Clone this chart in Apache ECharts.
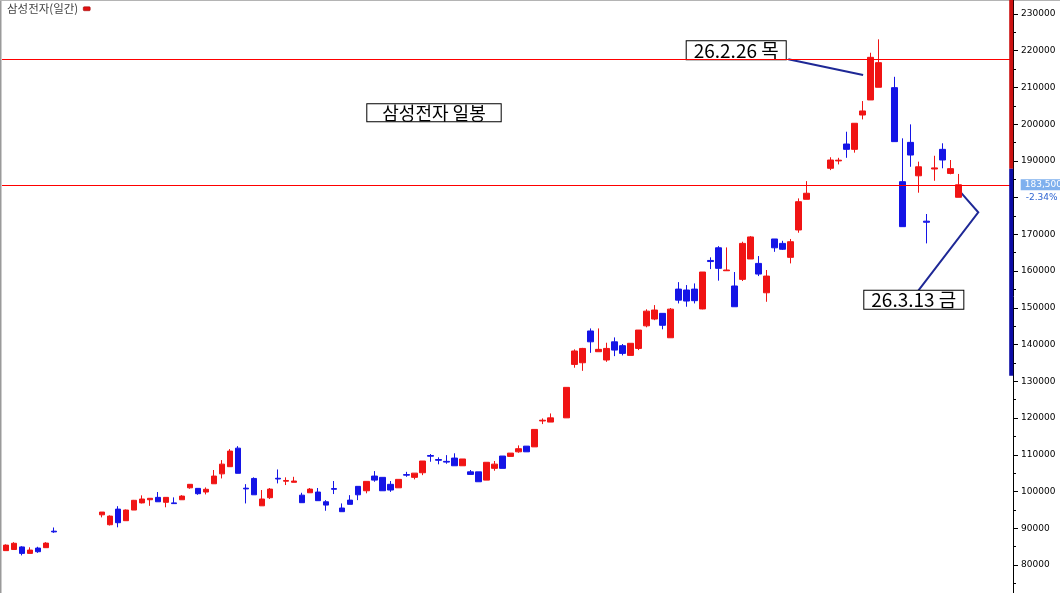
<!DOCTYPE html>
<html><head><meta charset="utf-8">
<script src="https://cdn.jsdelivr.net/npm/echarts@6.0.0/dist/echarts.min.js"></script>
<style>html,body{margin:0;padding:0;background:#fff}#chart{width:1060px;height:593px}</style>
</head><body><div id="chart"></div>
<script>
// ---- data (null = no trading in that slot) ----
const dates = [
'25.09.24','25.09.25','25.09.26','25.09.29','25.09.30','25.10.01','25.10.02','25.10.03','25.10.06','25.10.07',
'25.10.08','25.10.09','25.10.10','25.10.13','25.10.14','25.10.15','25.10.16','25.10.17','25.10.20','25.10.21',
'25.10.22','25.10.23','25.10.24','25.10.27','25.10.28','25.10.29','25.10.30','25.10.31','25.11.03','25.11.04',
'25.11.05','25.11.06','25.11.07','25.11.10','25.11.11','25.11.12','25.11.13','25.11.14','25.11.17','25.11.18',
'25.11.19','25.11.20','25.11.21','25.11.24','25.11.25','25.11.26','25.11.27','25.11.28','25.12.01','25.12.02',
'25.12.03','25.12.04','25.12.05','25.12.08','25.12.09','25.12.10','25.12.11','25.12.12','25.12.15','25.12.16',
'25.12.17','25.12.18','25.12.19','25.12.22','25.12.23','25.12.24','25.12.26','25.12.29','25.12.30','25.12.31',
'26.01.02','26.01.05','26.01.06','26.01.07','26.01.08','26.01.09','26.01.12','26.01.13','26.01.14','26.01.15',
'26.01.16','26.01.19','26.01.20','26.01.21','26.01.22','26.01.23','26.01.26','26.01.27','26.01.28','26.01.29',
'26.01.30','26.02.02','26.02.03','26.02.04','26.02.05','26.02.06','26.02.09','26.02.10','26.02.11','26.02.12',
'26.02.13','26.02.16','26.02.17','26.02.19','26.02.20','26.02.23','26.02.24','26.02.25','26.02.26','26.02.27',
'26.03.02','26.03.03','26.03.04','26.03.05','26.03.06','26.03.09','26.03.10','26.03.11','26.03.12','26.03.13'
];
const opens = [
83900,84200,84900,83150,84600,84700,89200,null,null,null,
null,null,93650,90950,95200,92050,94950,96900,97750,98400,
97050,96900,97750,101000,100850,99850,102100,104800,106750,111800,
100900,103550,96100,98300,103600,102800,102500,99000,99650,99850,
97200,100800,95500,97650,101400,100200,104200,103850,101950,101000,
104600,103850,105100,109800,108700,108200,109100,107000,105350,105350,
103100,106300,109650,109550,110800,112350,112150,119200,118900,null,
120050,134600,135050,143700,138050,135800,140750,139700,137050,138950,
145100,146950,148500,141850,155100,154850,155100,149700,162900,166350,
160100,155950,157750,163300,162100,154100,168750,167550,163750,171200,
179550,null,null,188000,190000,194600,193150,202500,206600,210050,
null,209950,184350,195050,185950,173600,187800,193150,186600,180100
];
const highs = [
85600,86200,85100,84800,84950,86200,90200,null,null,null,
null,null,94400,93500,96000,95100,97700,98950,98150,99850,
98400,98400,99000,102000,100850,101100,105850,108550,111550,112350,
102000,103850,100400,100950,106000,103850,104000,99650,100950,100950,
97650,102850,96750,99000,101400,102750,105550,103850,102850,103300,
105350,105000,108300,110200,109300,109900,110400,108850,105850,105350,
107950,108300,109650,110450,112550,112350,116900,119900,121250,null,
128350,138700,139100,144400,144400,140500,141950,140150,140350,143950,
149600,150750,148500,149950,157000,156200,156650,159750,163750,166800,
166450,159750,168000,169550,164100,160300,168750,168250,168750,179800,
184500,null,null,191000,190850,197950,200250,206300,219450,223100,
null,212900,196150,199950,189800,175550,191400,194800,190250,186450
];
const lows = [
83900,84200,82600,83150,83300,84700,88750,null,null,null,
null,null,92950,90750,90250,92050,94950,96750,96100,97200,
95700,96700,97750,100750,99100,99200,102100,103550,106750,104950,
96750,99100,96100,97950,102200,101750,102500,96950,99650,97500,
94750,99300,94500,96500,97650,99500,102650,100200,99900,101000,
104000,103300,104450,108100,107400,107550,107000,107000,104650,102650,
103100,105650,106300,109550,110550,110800,112150,118350,118900,null,
120050,133700,132850,137750,138050,135300,136850,137050,137050,138500,
144700,146650,144150,141850,151200,150300,151200,149600,160550,157400,
160100,150300,157300,163300,158650,151650,165250,165750,162100,170450,
179550,null,null,187500,189050,190850,192250,201300,206600,210050,
null,195250,172100,188400,181350,167550,184600,188000,186350,180100
];
const closes = [
85400,85900,83150,84050,83600,85950,89000,null,null,null,
null,null,94400,93300,91500,94950,97600,97950,98150,97200,
98400,96700,98750,101950,99400,100600,104200,107450,111000,104950,
100700,99100,97950,100650,103400,103000,102850,96950,100650,97500,
96300,100600,94500,96500,99100,102750,103100,100200,100400,103300,
104450,105000,108300,109600,108500,108000,107000,108850,104650,102650,
107950,107450,106300,110450,111650,110800,116900,119400,120050,null,
128350,138250,138950,140750,138700,138950,138500,137600,140350,143950,
149100,149400,145250,149650,152100,151850,151950,159750,162600,160750,
160300,150300,167550,169300,159200,158650,166350,165950,168000,178900,
181200,null,null,190250,190200,193150,200250,203600,218200,216750,
null,195250,172100,191600,188400,173300,188100,190250,187900,183500
];
const seriesName = '삼성전자(일간)';
const chartTitle = '삼성전자 일봉';
const resistanceLevel = 217700;
const prevClose = 187900;
const limitRate = 0.3;
const yMin = 70000, yMax = 240000, yStep = 10000;
const notes = [
  {date:'26.02.26', value:213400, text:'26.2.26 목'},
  {date:'26.03.13', value:181300, text:'26.3.13 금'}
];

// ---- build ----
const candles = dates.map((d,i)=> opens[i]==null ? '-' : [opens[i], closes[i], lows[i], highs[i]]);
let lastIdx = closes.length-1; while (closes[lastIdx]==null) lastIdx--;
const lastClose = closes[lastIdx];
const pct = (lastClose - prevClose) / prevClose * 100;
const fmt = v => String(v).replace(/\B(?=(\d{3})+(?!\d))/g, ',');

const KR = '"Noto Sans CJK KR"';
const NUM = '"DejaVu Sans"';
const chart = echarts.init(document.getElementById('chart'), null, {renderer:'canvas'});
chart.setOption({
  animation:false,
  backgroundColor:'#ffffff',
  textStyle:{fontFamily:KR},
  legend:{show:true, left:7, top:3, padding:0, data:[seriesName], align:'right', selectedMode:false,
    itemWidth:7, itemHeight:4, icon:'roundRect',
    textStyle:{fontSize:11.5, color:'#444', fontFamily:KR},
    itemStyle:{color:'#e01010', borderColor:'#900000', borderWidth:0.5}},
  grid:{left:2, right:49.3, top:-22.73, height:624.41, containLabel:false, outerBoundsMode:'none'},
  xAxis:{type:'category', data:dates, max:dates.length-1+6, boundaryGap:true,
    axisLine:{show:false}, axisTick:{show:false}, axisLabel:{show:false}, splitLine:{show:false}},
  yAxis:{type:'value', position:'right', min:yMin, max:yMax, interval:yStep, offset:2.3,
    axisLine:{show:true, lineStyle:{color:'#000', width:1}},
    axisTick:{show:true, length:5, lineStyle:{color:'#000', width:1}},
    minorTick:{show:true, splitNumber:2, length:3, lineStyle:{color:'#000', width:1}},
    axisLabel:{show:true, margin:8, color:'#000', fontSize:9, fontFamily:NUM, formatter:v=>String(v)},
    splitLine:{show:false}, minorSplitLine:{show:false}},
  series:[
    {type:'candlestick', name:seriesName, data:candles, barWidth:6,
      itemStyle:{color:'#f01414', color0:'#1414e6', borderColor:'#f01414', borderColor0:'#1414e6', borderWidth:1}
    },
    {type:'custom', name:'levels', silent:true, clip:false, z:4,
      data:[[0, resistanceLevel, 0], [0, lastClose, 1]],
      encode:{x:0, y:1},
      renderItem:function(params, api){
        const cs = params.coordSys;
        const yc = api.coord([0, api.value(1)])[1];
        const xr = cs.x + cs.width;
        const children = [{type:'rect', shape:{x:cs.x, y:Math.round(yc), width:cs.width, height:1},
          style:{fill:'#ff0000', stroke:null}}];
        if (api.value(2) === 1) {
          children.push({type:'text', x:xr+10, y:yc, style:{text:fmt(api.value(1)), fill:'#ffffff',
            backgroundColor:'#7fb0ee', font:'9px '+NUM, padding:[1,20,1,4], verticalAlign:'middle', align:'left'}});
          children.push({type:'text', x:xr+10, y:yc+12.5, style:{text:pct.toFixed(2)+'%', fill:'#2e64d2',
            backgroundColor:'#ffffff', font:'9px '+NUM, padding:[1,12,1,5], verticalAlign:'middle', align:'left'}});
        }
        return {type:'group', children:children};
      }},
    {type:'custom', name:'limit', silent:true, clip:false, z:5,
      data:[[0, Math.min(prevClose*(1+limitRate), yMax), prevClose, 0],
            [0, prevClose, prevClose*(1-limitRate), 1]],
      encode:{x:0, y:[1,2]},
      renderItem:function(params, api){
        const cs = params.coordSys;
        const y1 = api.coord([0, api.value(1)])[1];
        const y2 = api.coord([0, api.value(2)])[1];
        const x = cs.x + cs.width;
        return {type:'rect', shape:{x:x-1.5, y:Math.min(y1,y2), width:4, height:Math.abs(y2-y1)},
          style:{fill: api.value(3)===0 ? '#cc1111' : '#0b0ba5'}};
      }}
  ]
});

const p1 = chart.convertToPixel({gridIndex:0}, [notes[0].date, notes[0].value]);
const p2 = chart.convertToPixel({gridIndex:0}, [notes[1].date, notes[1].value]);
const boxStyle = (t, size)=>({text:t, fill:'#000', font:size+'px '+KR, backgroundColor:'#ffffff',
  borderColor:'#000', borderWidth:1, lineHeight:18, padding:[0,7,0,7]});
chart.setOption({graphic:[
  {type:'line', silent:true, shape:{x1:0.5,y1:0,x2:0.5,y2:593}, style:{stroke:'#9a9a9a', lineWidth:2}},
  {type:'line', silent:true, shape:{x1:0,y1:0.5,x2:1060,y2:0.5}, style:{stroke:'#b4b4b4', lineWidth:1}},
  {type:'text', silent:true, x:367.3, y:104.3, style:Object.assign(boxStyle(chartTitle,18),{lineHeight:17, padding:[0,15,0,15]})},
  {type:'polyline', silent:true, shape:{points:[[788.3,59.3],[p1[0]-7.5,p1[1]]]}, style:{stroke:'#1e2896', lineWidth:2, fill:null}},
  {type:'text', silent:true, x:686.7, y:41.3, style:boxStyle(notes[0].text,19)},
  {type:'polyline', silent:true, shape:{points:[[p2[0]+2.5,p2[1]],[p2[0]+19.6,p2[1]+19.4],[918.3,290.7]]}, style:{stroke:'#1e2896', lineWidth:2, fill:null}},
  {type:'text', silent:true, x:864.3, y:290.7, style:boxStyle(notes[1].text,19)}
]});
</script></body></html>
